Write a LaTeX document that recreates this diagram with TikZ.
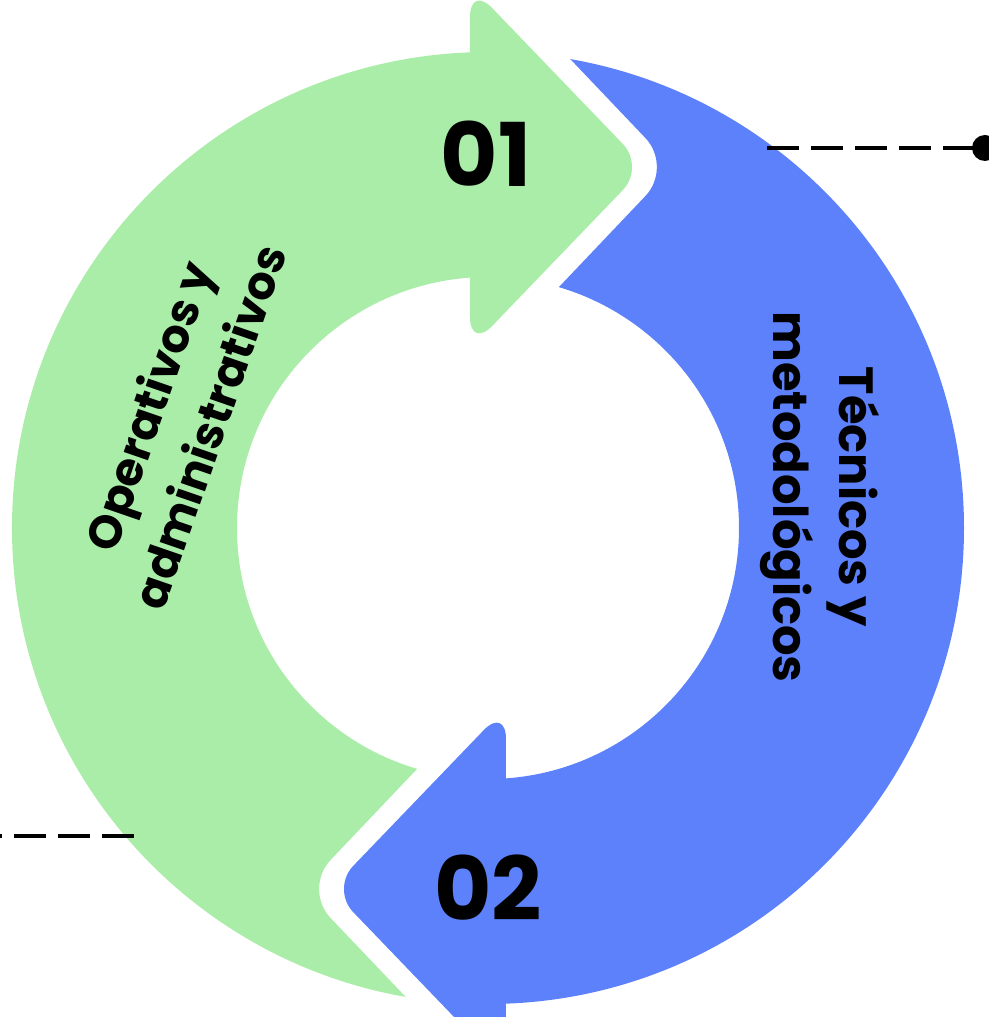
\documentclass[tikz,border=0pt]{standalone}
\usepackage{fontspec}
\setmainfont{Poppins}
\definecolor{leafgreen}{RGB}{169,237,169}
\definecolor{skyblue}{RGB}{92,129,250}
\begin{document}
\begin{tikzpicture}[
	x=0.5pt, y=0.5pt,
	num/.style={font=\fontsize{44}{44}\selectfont\bfseries, inner sep=0pt},
	lbl/.style={font=\fontsize{24}{33}\selectfont\bfseries, align=center, inner sep=0pt},
	leader/.style={line width=2pt, dash pattern=on 16pt off 6pt},
	dot/.style={circle, fill, minimum size=13pt, inner sep=0pt},
	]
	
	%-----------------------
	% Ring sizes
	%-----------------------
	\def\rin{251}
	\def\rout{476}
	
	\useasboundingbox (-488,-489) rectangle (501,528);
	
	%-----------------------
	% Arrow 1: green, left half
	%-----------------------
	\begin{scope}[even odd rule]
		\clip (0,0) circle (\rout) (0,0) circle (\rin);
		\fill[leafgreen, rounded corners=20pt] (-18,600) -- (-600,600) -- (-600,-650) -- (90,-650)
			-- (-185,-361) -- (-14,-181) -- (-18,0) -- cycle;
	\end{scope}
	\fill[leafgreen, rounded corners=16pt] (-18,361) -- (-18,543) -- (157,361) -- (-18,179) -- cycle;
	
	%-----------------------
	% Arrow 2: blue, right half
	%-----------------------
	\begin{scope}[rotate=180]
		\begin{scope}[even odd rule]
			\clip (0,0) circle (\rout) (0,0) circle (\rin);
			\fill[skyblue, rounded corners=20pt] (-18,600) -- (-600,600) -- (-600,-650) -- (90,-650)
				-- (-185,-361) -- (-14,-181) -- (-18,0) -- cycle;
		\end{scope}
		\fill[skyblue, rounded corners=16pt] (-18,361) -- (-18,543) -- (157,361) -- (-18,179) -- cycle;
	\end{scope}
	
	%-----------------------
	% Numbers and labels
	%-----------------------
	\node[num] (n01) at (-2,374) {01};
	\node[num] (n02) at (0,-360) {02};
	
	\node[lbl, rotate=71, font=\fontsize{23}{32}\selectfont\bfseries] (oper) at (-310,112) {Operativos y\\administrativos};
	\node[lbl, rotate=-90] (tecn) at (332,31) {Técnicos y\\metodológicos};
	
	%-----------------------
	% Leaders
	%-----------------------
	\coordinate (tecn-start) at (279,380);
	\node[dot] (tecn-dot) at (497,380) {};
	\draw[leader] (tecn-start) -- (tecn-dot.center);
	
	\coordinate (oper-start) at (-354,-308);
	\coordinate (oper-end) at (-500,-308);
	\draw[leader] (oper-start) -- (oper-end);
	
\end{tikzpicture}
\end{document}
